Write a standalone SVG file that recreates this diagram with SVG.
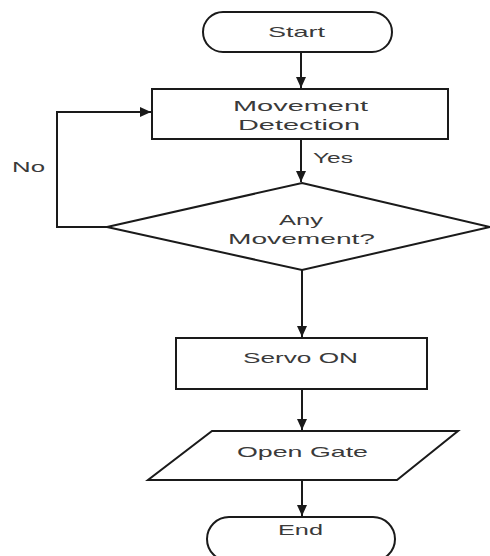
<svg xmlns="http://www.w3.org/2000/svg" width="490" height="556" viewBox="0 0 490 556">
<style>
.s{fill:#fff;stroke:#1a1a1a;stroke-width:2}
.t{font-family:"Liberation Sans","Open Sans",sans-serif;font-size:15px;fill:#3a3a3a;text-anchor:start}
.c{fill:none;stroke:#1a1a1a;stroke-width:2}
</style>
<defs>
<marker id="a" markerUnits="userSpaceOnUse" markerWidth="12" markerHeight="10" refX="11" refY="5" orient="auto">
<path d="M0,0 L11,5 L0,10 Z" fill="#1a1a1a"/>
</marker>
</defs>
<rect width="490" height="556" fill="#fff"/>
<g id="connectors">
<path class="c" d="M301,52 V88" marker-end="url(#a)"/>
<path class="c" d="M301,139 V182" marker-end="url(#a)"/>
<path class="c" d="M302,270 V337" marker-end="url(#a)"/>
<path class="c" d="M302,389 V430" marker-end="url(#a)"/>
<path class="c" d="M302,480 V516" marker-end="url(#a)"/>
<path class="c" d="M110,227 H57 V112 H151" marker-end="url(#a)"/>
<text class="t" x="313" y="163" textLength="40" lengthAdjust="spacingAndGlyphs">Yes</text>
<text class="t" x="12" y="172" textLength="33" lengthAdjust="spacingAndGlyphs">No</text>
</g>
<g id="start">
<rect class="s" x="203" y="12" width="189" height="40" rx="20"/>
<text class="t" x="268" y="37" textLength="57" lengthAdjust="spacingAndGlyphs">Start</text>
</g>
<g id="detection">
<rect class="s" x="152" y="89" width="296" height="50"/>
<text class="t" x="233" y="111" textLength="135" lengthAdjust="spacingAndGlyphs">Movement</text>
<text class="t" x="238" y="130" textLength="122" lengthAdjust="spacingAndGlyphs">Detection</text>
</g>
<g id="decision">
<polygon class="s" points="302,183 490,227 302,270 107,227"/>
<text class="t" x="279" y="225" textLength="44" lengthAdjust="spacingAndGlyphs">Any</text>
<text class="t" x="228" y="244" textLength="147" lengthAdjust="spacingAndGlyphs">Movement?</text>
</g>
<g id="servo">
<rect class="s" x="176" y="338" width="251" height="51"/>
<text class="t" x="243" y="363" textLength="115" lengthAdjust="spacingAndGlyphs">Servo ON</text>
</g>
<g id="gate">
<polygon class="s" points="212,431 458,431 397,480 148,480"/>
<text class="t" x="237" y="457" textLength="131" lengthAdjust="spacingAndGlyphs">Open Gate</text>
</g>
<g id="end">
<rect class="s" x="207" y="517" width="188" height="44" rx="22"/>
<text class="t" x="278" y="535" textLength="45" lengthAdjust="spacingAndGlyphs">End</text>
</g>
</svg>
